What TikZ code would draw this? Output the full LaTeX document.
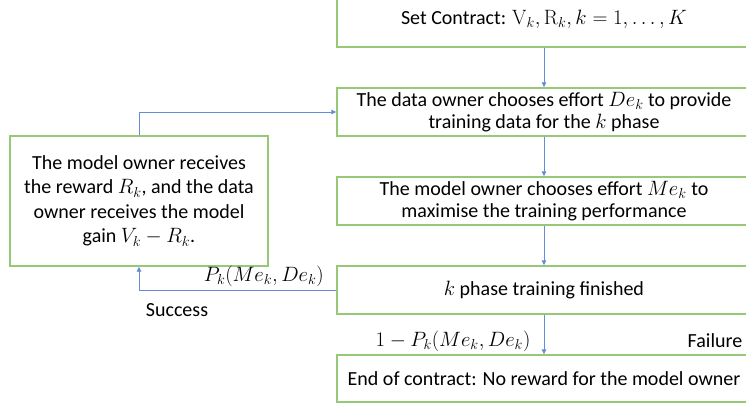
\documentclass[tikz,border=0pt]{standalone}
\usepackage[no-math]{fontspec}
\setmainfont{Carlito}
\usetikzlibrary{arrows.meta}
\definecolor{boxgreen}{RGB}{150,200,120}
\definecolor{arrblue}{RGB}{100,140,215}
\begin{document}
\begin{tikzpicture}[x=1pt,y=-1pt,
  box/.style={draw=boxgreen,line width=1.4pt,rectangle,minimum width=414pt,minimum height=48pt,align=center,inner sep=0pt,font=\fontsize{20}{22.5}\selectfont},
  conn/.style={draw=arrblue,line width=0.9pt,-{Triangle[length=5pt,width=4.5pt]}},
  lbl/.style={font=\fontsize{20}{22}\selectfont,inner sep=0pt}]
\useasboundingbox (0,0) rectangle (746,409);
\node[box,minimum height=56pt] (b1) at (544,19) {\raisebox{-5pt}{Set Contract: $\mathrm{V}_k,\mathrm{R}_k,k=1,\dots,K$}};
\node[box] (b2) at (544,112) {The data owner chooses effort $De_k$ to provide\\training data for the $k$ phase};
\node[box] (b3) at (544,201) {The model owner chooses effort $Me_k$ to\\maximise the training performance};
\node[box] (b4) at (544,290) {$k$ phase training finished};
\node[box,minimum height=47pt] (b5) at (544,378.5) {End of contract: No reward for the model owner};
\node[box,minimum width=258pt,minimum height=130pt,font=\fontsize{20}{24.5}\selectfont] (lb) at (139,201) {The model owner receives\\the reward $R_k$, and the data\\owner receives the model\\gain $V_k-R_k$.};
\coordinate (c1) at (139,112);
\coordinate (c2) at (139,290);
\draw[conn] (b1.south) -- (b2.north);
\draw[conn] (b2.south) -- (b3.north);
\draw[conn] (b3.south) -- (b4.north);
\draw[conn] (b4.south) -- (b5.north);
\draw[conn] (lb.north) -- (c1) -- (b2.west);
\draw[conn] (b4.west) -- (c2) -- (lb.south);
\node[lbl,anchor=east] (p1) at (324,276) {$P_k(Me_k,De_k)$};
\node[lbl] (s1) at (177,310) {Success};
\node[lbl] (p2) at (453,341) {$1-P_k(Me_k,De_k)$};
\node[lbl] (f1) at (715,341) {Failure};
\end{tikzpicture}
\end{document}
